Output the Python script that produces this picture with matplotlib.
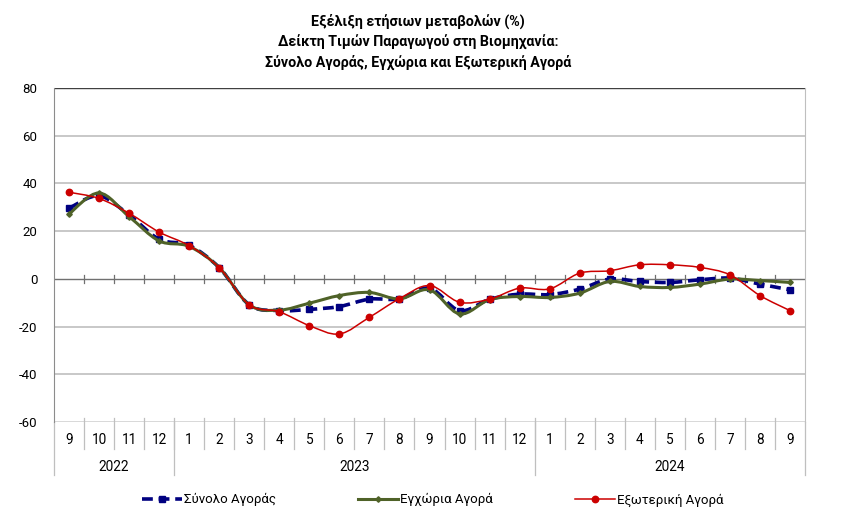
import matplotlib
matplotlib.use("Agg")
import matplotlib.pyplot as plt
from matplotlib.path import Path
from matplotlib.patches import PathPatch
from matplotlib.lines import Line2D
import numpy as np

plt.rcParams['font.family'] = ['Roboto', 'DejaVu Sans']
plt.rcParams['axes.unicode_minus'] = False

months = ["9", "10", "11", "12", "1", "2", "3", "4", "5", "6", "7", "8", "9",
          "10", "11", "12", "1", "2", "3", "4", "5", "6", "7", "8", "9"]
years = ["2022", "2023", "2024"]
year_counts = [4, 12, 9]

total = [29.6, 34.8, 26.8, 16.6, 14.0, 4.7, -10.9, -13.3, -12.8, -11.6, -8.5, -8.4, -3.9,
         -13.3, -8.6, -6.4, -6.6, -4.3, -0.1, -1.1, -1.5, -0.4, 0.3, -2.2, -4.6]
domestic = [27.2, 36.0, 26.1, 15.9, 13.6, 4.7, -10.9, -13.1, -10.2, -7.0, -5.7, -8.4, -4.6,
            -14.7, -8.7, -7.4, -7.8, -6.0, -1.1, -3.2, -3.6, -2.2, -0.1, -0.7, -1.5]
external = [36.3, 33.7, 27.5, 19.6, 13.9, 4.7, -10.9, -13.8, -19.6, -23.1, -16.1, -8.3, -2.8,
            -9.8, -8.5, -3.9, -4.2, 2.4, 3.4, 5.9, 5.9, 4.8, 1.7, -7.0, -13.3]

labels = ["Σύνολο Αγοράς", "Εγχώρια Αγορά", "Εξωτερική Αγορά"]
title = "Εξέλιξη ετήσιων μεταβολών (%)\nΔείκτη Τιμών Παραγωγού στη Βιομηχανία:\nΣύνολο Αγοράς, Εγχώρια και Εξωτερική Αγορά"

fig = plt.figure(figsize=(8.41, 5.31), dpi=100)
ax = fig.add_axes([54/841, 1-422/531, (805-54)/841, (422-88)/531])

x = np.arange(len(months))
ax.set_xlim(-0.5, len(months)-0.5)
ax.set_ylim(-60, 80)
ax.set_yticks(np.arange(-60, 81, 20))
ax.tick_params(axis='y', length=0, pad=12, labelsize=9.5)
ax.set_xticks([])

for v in [60, 40, 20, -20, -40]:
    ax.axhline(v, color='#BFBFBF', lw=1.2, zorder=0)
ax.axhline(80, color='#404040', lw=1.0, zorder=1)
ax.axhline(0, color='#707070', lw=1.0, zorder=1)
ax.axhline(-60, color='#404040', lw=1.0, zorder=1)
for s in ['top', 'bottom']:
    ax.spines[s].set_visible(False)
ax.spines['left'].set_color('#8C8C8C')
ax.spines['right'].set_color('#BFBFBF')

# ticks across zero line
for b in np.arange(0.5, len(months)-1, 1.0):
    ax.plot([b, b], [-1.6, 1.6], color='#707070', lw=0.9, zorder=1)

def smooth_path(xs, ys):
    pts = np.column_stack([xs, ys])
    n = len(pts)
    verts = [pts[0]]
    codes = [Path.MOVETO]
    for i in range(n-1):
        p0 = pts[i-1] if i > 0 else pts[i]
        p1 = pts[i]
        p2 = pts[i+1]
        p3 = pts[i+2] if i+2 < n else pts[i+1]
        c1 = p1 + (p2 - p0) / 6.0
        c2 = p2 - (p3 - p1) / 6.0
        verts += [c1, c2, p2]
        codes += [Path.CURVE4]*3
    return Path(verts, codes)

styles = [
    dict(color='#000080', lw=2.6, ls=(0, (3, 1.6)), marker='s', ms=4.6),
    dict(color='#4F6228', lw=2.2, ls='-', marker='D', ms=2.8),
    dict(color='#CC0000', lw=1.1, ls='-', marker='o', ms=4.6),
]
series = [total, domestic, external]
handles = []
for k, (vals, st) in enumerate(zip(series, styles)):
    patch = PathPatch(smooth_path(x, vals), facecolor='none', edgecolor=st['color'],
                      lw=st['lw'], linestyle=st['ls'], zorder=3+k, capstyle='butt')
    ax.add_patch(patch)
    ax.plot(x, vals, linestyle='none', marker=st['marker'], ms=st['ms'],
            color=st['color'], mec=st['color'], zorder=3.5+k)
    handles.append(Line2D([], [], color=st['color'], lw=st['lw'], ls=st['ls'],
                          marker=st['marker'], ms=st['ms']))

# category area below the plot
trans = ax.get_xaxis_transform()
for i, m in enumerate(months):
    ax.text(i, -0.054, m, transform=trans, ha='center', va='center', fontsize=9.8, clip_on=False)
for b in np.arange(0.5, len(months)-1, 1.0):
    ax.plot([b, b], [0.012, -0.081], transform=trans, color='#BFBFBF', lw=0.9, clip_on=False)
start = 0
bounds = [-0.5]
for yname, cnt in zip(years, year_counts):
    ax.text(start + (cnt-1)/2.0, -0.1347, yname, transform=trans, ha='center', va='center',
            fontsize=9.8, clip_on=False)
    start += cnt
    bounds.append(start-0.5)
for b in bounds:
    ax.plot([b, b], [0, -0.159], transform=trans, color='#BFBFBF', lw=0.9, clip_on=False)

fig.text(0.497, 1-42/531, title, ha='center', va='center', fontsize=10.3, fontweight='bold',
         linespacing=1.45)

fig.legend(handles, labels, loc='center', bbox_to_anchor=(433/841, 1-500/531), ncol=3,
           frameon=False, fontsize=9.5, handlelength=3.0, handletextpad=0.2,
           columnspacing=6.2)

fig.savefig("out.png", dpi=100)
